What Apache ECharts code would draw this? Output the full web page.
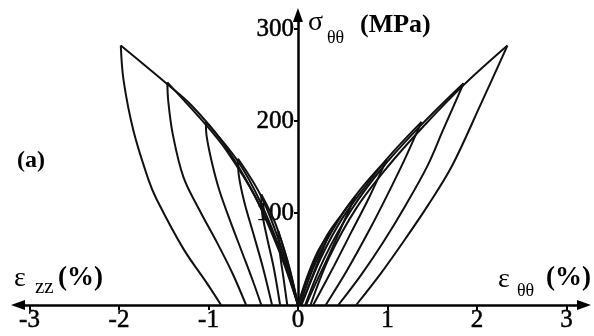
<!DOCTYPE html>
<html>
<head>
<meta charset="utf-8">
<script src="https://cdn.jsdelivr.net/npm/echarts@6/dist/echarts.min.js"></script>
<style>
html, body { margin: 0; padding: 0; background: #fff; }
#chart { width: 594px; height: 336px; }
</style>
</head>
<body>
<div id="chart"></div>
<script>
// hoop strain (right) and axial strain (left) vs hoop stress
// right side: eps_theta-theta (%), sigma (MPa)
var loadR1 = [[0.14, 0], [0.35, 52], [0.65, 105], [1.0, 150], [1.4, 194], [1.85, 239], [2.34, 282]];
var loadR2 = [[0.08, 0], [0.3, 52], [0.6, 104], [0.95, 150], [1.38, 196], [1.85, 241]];
var loadR3 = [[0.04, 0], [0.25, 50], [0.5, 95], [0.8, 135], [1.05, 165], [1.38, 199]];
var loadR4 = [[0.02, 0], [0.2, 47], [0.45, 92], [0.7, 126], [0.99, 158]];
var loadR5 = [[0, 0], [0.15, 40], [0.32, 75], [0.5, 100], [0.64, 118]];
var loadR6 = [[0, 0], [0.1, 30], [0.22, 58], [0.35, 78]];

var unloadR1 = [[2.34, 282], [2.05, 220], [1.72, 151], [1.45, 108], [1.2, 72], [0.93, 35], [0.65, 0]];
var unloadR2 = [[1.85, 241], [1.62, 190], [1.445, 151], [1.2, 108], [0.95, 68], [0.7, 32], [0.45, 0]];
var unloadR3 = [[1.38, 199], [1.2, 160], [1.0, 120], [0.8, 82], [0.55, 38], [0.31, 0]];
var unloadR4 = [[0.99, 158], [0.8, 118], [0.6, 80], [0.4, 42], [0.17, 0]];
var unloadR5 = [[0.64, 118], [0.5, 88], [0.35, 55], [0.2, 24], [0.09, 0]];
var unloadR6 = [[0.35, 78], [0.22, 46], [0.1, 16], [0.03, 0]];

// left side: eps_zz (%), sigma (MPa)
var loadL1 = [[0, 0], [-0.2, 58], [-0.5, 122], [-0.85, 178], [-1.2, 218], [-1.46, 240], [-1.98, 282]];
var loadL2 = [[0, 0], [-0.2, 56], [-0.48, 118], [-0.8, 168], [-1.03, 196], [-1.46, 242]];
var loadL3 = [[0, 0], [-0.18, 55], [-0.42, 112], [-0.67, 156], [-1.03, 199]];
var loadL4 = [[0, 0], [-0.15, 52], [-0.4, 116], [-0.67, 159]];
var loadL5 = [[0, 0], [-0.12, 48], [-0.25, 88], [-0.41, 120]];
var loadL6 = [[0, 0], [-0.1, 42], [-0.22, 80]];

var unloadL1 = [[-1.98, 282], [-1.95, 245], [-1.84, 190], [-1.67, 136], [-1.58, 115], [-1.28, 61], [-1.02, 24], [-0.86, 0]];
var unloadL2 = [[-1.46, 242], [-1.45, 222], [-1.4, 186], [-1.28, 139], [-1.1, 103], [-0.9, 67], [-0.73, 34], [-0.58, 0]];
var unloadL3 = [[-1.03, 199], [-1.02, 183], [-0.96, 154], [-0.88, 125], [-0.76, 92], [-0.62, 56], [-0.5, 25], [-0.41, 0]];
var unloadL4 = [[-0.67, 159], [-0.66, 140], [-0.6, 112], [-0.5, 78], [-0.39, 40], [-0.29, 0]];
var unloadL5 = [[-0.41, 120], [-0.4, 100], [-0.35, 75], [-0.27, 40], [-0.2, 0]];
var unloadL6 = [[-0.22, 80], [-0.2, 55], [-0.16, 28], [-0.12, 0]];

var branches = [
  loadR1, loadR2, loadR3, loadR4, loadR5, loadR6,
  unloadR1, unloadR2, unloadR3, unloadR4, unloadR5, unloadR6,
  loadL1, loadL2, loadL3, loadL4, loadL5, loadL6,
  unloadL1, unloadL2, unloadL3, unloadL4, unloadL5, unloadL6
];

var xMin = -3, xMax = 3, xStep = 1;
var yMin = 0, yMax = 300, yStep = 100;

var SERIF = '"Liberation Serif", "DejaVu Serif", serif';

var chart = echarts.init(document.getElementById("chart"));

var series = branches.map(function (b) {
  return {
    type: "line",
    xAxisIndex: 0,
    yAxisIndex: 0,
    data: b,
    smooth: 0.35,
    symbol: "none",
    silent: true,
    lineStyle: { color: "#111", width: 2 }
  };
});

var tickLabel = {
  color: "#000",
  fontFamily: SERIF,
  fontSize: 25,
  textBorderColor: "#000",
  textBorderWidth: 0.5
};
var tickStyle = { color: "#000", width: 2 };

var option = {
  animation: false,
  backgroundColor: "#fff",
  grid: [
    { left: 29.5, right: 27.5, top: 29, bottom: 31 },
    // wider grid only for the arrowed axis lines
    { left: 18, right: 10, top: 15, bottom: 31 },
    // right half, so the stress labels sit just left of the zero line
    { left: 298, right: 27.5, top: 29, bottom: 31 }
  ],
  xAxis: [
    {
      gridIndex: 0,
      type: "value",
      min: xMin,
      max: xMax,
      interval: xStep,
      axisLine: { show: false, onZero: false },
      axisTick: { show: true, length: 5, lineStyle: tickStyle },
      axisLabel: Object.assign({ margin: 3 }, tickLabel),
      splitLine: { show: false }
    },
    {
      gridIndex: 1,
      type: "value",
      min: -3.128,
      max: 3.196,
      axisLine: {
        show: true,
        onZero: false,
        symbol: ["triangle", "triangle"],
        symbolSize: [10, 14],
        lineStyle: { color: "#000", width: 2.5 }
      },
      axisTick: { show: false },
      axisLabel: { show: false },
      splitLine: { show: false }
    },
    { gridIndex: 2, type: "value", min: 0, max: xMax, show: false }
  ],
  yAxis: [
    {
      gridIndex: 0,
      type: "value",
      min: yMin,
      max: yMax,
      interval: yStep,
      axisLine: { show: false, onZero: true },
      axisTick: { show: false },
      axisLabel: { show: false },
      splitLine: { show: false }
    },
    {
      gridIndex: 1,
      type: "value",
      min: 0,
      max: 315.2,
      axisLine: {
        show: true,
        onZero: true,
        symbol: ["none", "triangle"],
        symbolSize: [10, 14],
        lineStyle: { color: "#000", width: 2.5 }
      },
      axisTick: { show: false },
      axisLabel: { show: false },
      splitLine: { show: false }
    },
    {
      gridIndex: 2,
      type: "value",
      position: "left",
      min: yMin,
      max: yMax,
      interval: yStep,
      axisLine: { show: false, onZero: false },
      axisTick: { show: true, length: 4, lineStyle: tickStyle },
      axisLabel: Object.assign({ margin: 4, showMinLabel: false }, tickLabel),
      splitLine: { show: false }
    }
  ],
  graphic: [
    { type: "text", x: 308, y: 23, style: { text: "σ", font: "28px " + SERIF, fill: "#000", verticalAlign: "middle" } },
    { type: "text", x: 327, y: 38, style: { text: "θθ", font: "18px " + SERIF, fill: "#000", verticalAlign: "middle" } },
    { type: "text", x: 360, y: 25, style: { text: "(MPa)", font: "bold 26px " + SERIF, fill: "#000", verticalAlign: "middle" } },
    { type: "text", x: 17, y: 161, style: { text: "(a)", font: "bold 24px " + SERIF, fill: "#000", verticalAlign: "middle" } },
    { type: "text", x: 14, y: 279, style: { text: "ε", font: "28px " + SERIF, fill: "#000", verticalAlign: "middle" } },
    { type: "text", x: 35, y: 287, style: { text: "zz", font: "21px " + SERIF, fill: "#000", verticalAlign: "middle" } },
    { type: "text", x: 58, y: 278, style: { text: "(%)", font: "bold 27px " + SERIF, fill: "#000", verticalAlign: "middle" } },
    { type: "text", x: 498, y: 280, style: { text: "ε", font: "28px " + SERIF, fill: "#000", verticalAlign: "middle" } },
    { type: "text", x: 517, y: 291, style: { text: "θθ", font: "18px " + SERIF, fill: "#000", verticalAlign: "middle" } },
    { type: "text", x: 546, y: 278, style: { text: "(%)", font: "bold 27px " + SERIF, fill: "#000", verticalAlign: "middle" } }
  ],
  series: series
};

chart.setOption(option);
</script>
</body>
</html>
